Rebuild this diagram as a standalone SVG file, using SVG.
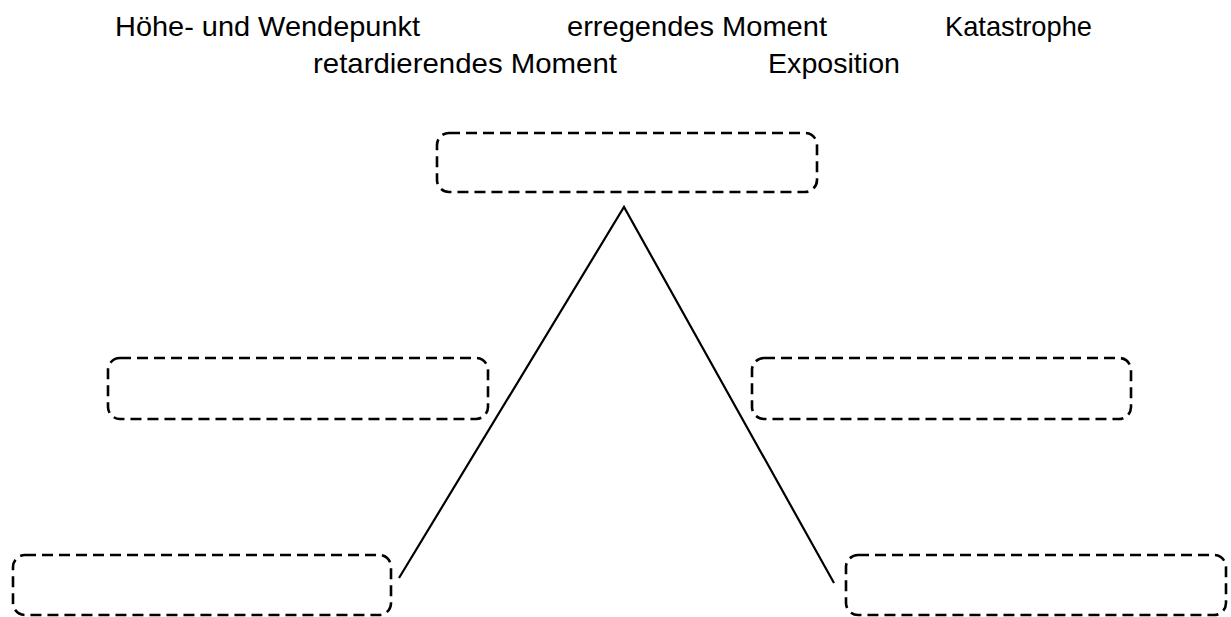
<svg xmlns="http://www.w3.org/2000/svg" width="1231" height="617" viewBox="0 0 1231 617">
<style>
.lbl{font-family:"Liberation Sans",Arial,sans-serif;font-size:28px;fill:#000}
.box{fill:none;stroke:#000;stroke-width:2.6;stroke-dasharray:11 6}
.edge{fill:none;stroke:#000;stroke-width:2.2}
</style>
<rect width="1231" height="617" fill="#fff"/>
<g id="labels">
<text class="lbl" x="115" y="36" textLength="305" lengthAdjust="spacingAndGlyphs">Höhe- und Wendepunkt</text>
<text class="lbl" x="567" y="36" textLength="260" lengthAdjust="spacingAndGlyphs">erregendes Moment</text>
<text class="lbl" x="945" y="36" textLength="147" lengthAdjust="spacingAndGlyphs">Katastrophe</text>
<text class="lbl" x="313" y="73" textLength="304" lengthAdjust="spacingAndGlyphs">retardierendes Moment</text>
<text class="lbl" x="768" y="73" textLength="132" lengthAdjust="spacingAndGlyphs">Exposition</text>
</g>
<g id="connectors">
<polyline class="edge" points="399,578 624,207 834,583"/>
</g>
<g id="box-top"><rect class="box" x="437" y="133" width="380" height="59" rx="12"/></g>
<g id="box-mid-left"><rect class="box" x="108" y="358" width="380" height="61" rx="12"/></g>
<g id="box-mid-right"><rect class="box" x="752" y="358" width="379" height="61" rx="12"/></g>
<g id="box-bottom-left"><rect class="box" x="13" y="555" width="378" height="60" rx="12"/></g>
<g id="box-bottom-right"><rect class="box" x="846" y="555" width="380" height="60" rx="12"/></g>
</svg>
